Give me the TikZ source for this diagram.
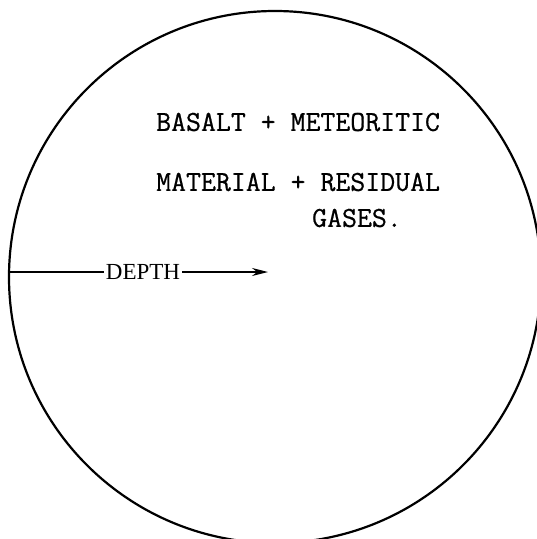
\documentclass[tikz,border=0pt]{standalone}
\usepackage{fontspec}
\newfontfamily\twfont[FakeBold=0.7]{Latin Modern Mono}
\newfontfamily\depthfont{Liberation Serif}
\usetikzlibrary{arrows.meta}
\tikzset{
  label text/.style={font=\twfont\fontsize{29}{31}\selectfont, inner sep=0pt, anchor=west},
  depth text/.style={font=\depthfont\fontsize{23}{25}\selectfont, inner sep=2pt},
  rim/.style={line width=2.2pt},
  depth line/.style={line width=1.6pt}
}
\begin{document}
\begin{tikzpicture}[x=1pt,y=-1pt]
\useasboundingbox (0,0) rectangle (537,539);
\clip (0,0) rectangle (537,539);
\draw[rim] (275,277) circle[radius=266];
\node[label text] (l1) at (156,122) {BASALT + METEORITIC};
\node[label text] (l2) at (156,182) {MATERIAL + RESIDUAL};
\node[label text] (l3) at (312,218) {GASES.};
\coordinate (edge) at (10,272);
\node[depth text] (depth) at (143,272) {DEPTH};
\coordinate (tip) at (268,272);
\draw[depth line] (edge) -- (depth.west);
\draw[depth line,-{Stealth[length=16pt,width=8pt]}] (depth.east) -- (tip);
\end{tikzpicture}
\end{document}
